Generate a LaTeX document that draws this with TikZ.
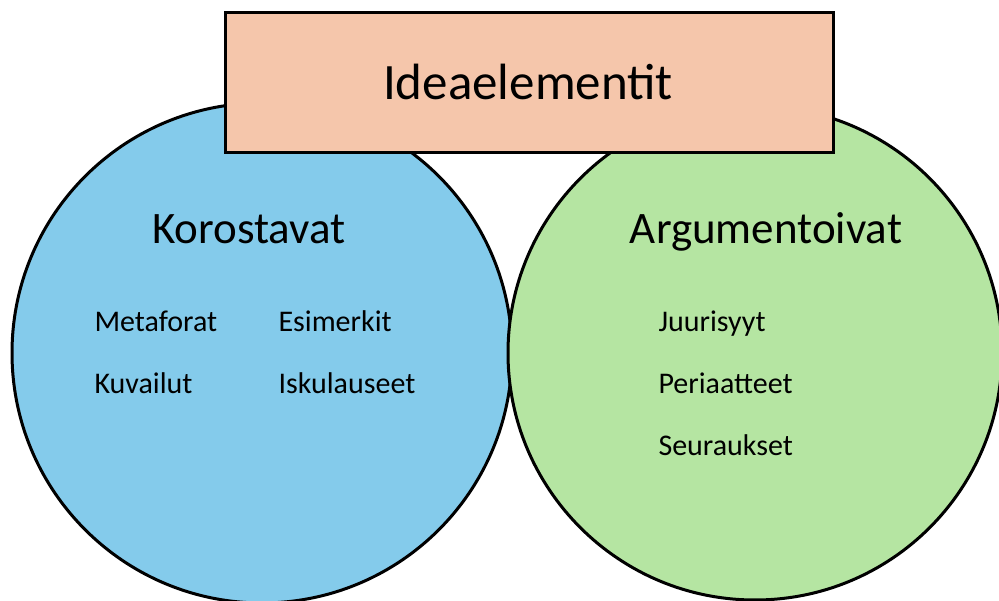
\documentclass[tikz,border=0pt]{standalone}
\usepackage{fontspec}
\setmainfont{Carlito}
\definecolor{cblue}{HTML}{84CBEB}
\definecolor{cgreen}{HTML}{B5E5A2}
\definecolor{csalmon}{HTML}{F5C6AB}
\begin{document}
\begin{tikzpicture}[x=1pt,y=-1pt,
  blob/.style={circle,draw=black,line width=3pt,minimum size=#1,inner sep=0pt},
  title/.style={font=\fontsize{51}{55}\selectfont,anchor=base},
  head/.style={font=\fontsize{45}{49}\selectfont,anchor=base},
  item/.style={font=\fontsize{30}{33}\selectfont,anchor=base west}]
\useasboundingbox (0,0) rectangle (999,601);
\clip (0,0) rectangle (999,601);
\node[blob=500pt,fill=cblue] (L) at (262,353) {};
\node[blob=494pt,fill=cgreen] (R) at (755,353) {};
\node[draw=black,line width=3pt,fill=csalmon,minimum width=608pt,minimum height=140pt,inner sep=0pt] (box) at (529,83) {};
\node[title] (t) at (528,100) {Ideaelementit};
\node[head] (k) at (249,244) {Korostavat};
\node[head] (a) at (766,244) {Argumentoivat};
\node[item] (m1) at (91,332) {Metaforat};
\node[item] (m2) at (275,332) {Esimerkit};
\node[item] (m3) at (91,394) {Kuvailut};
\node[item] (m4) at (275,394) {Iskulauseet};
\node[item] (r1) at (655,332) {Juurisyyt};
\node[item] (r2) at (655,394) {Periaatteet};
\node[item] (r3) at (655,456) {Seuraukset};
\end{tikzpicture}
\end{document}
